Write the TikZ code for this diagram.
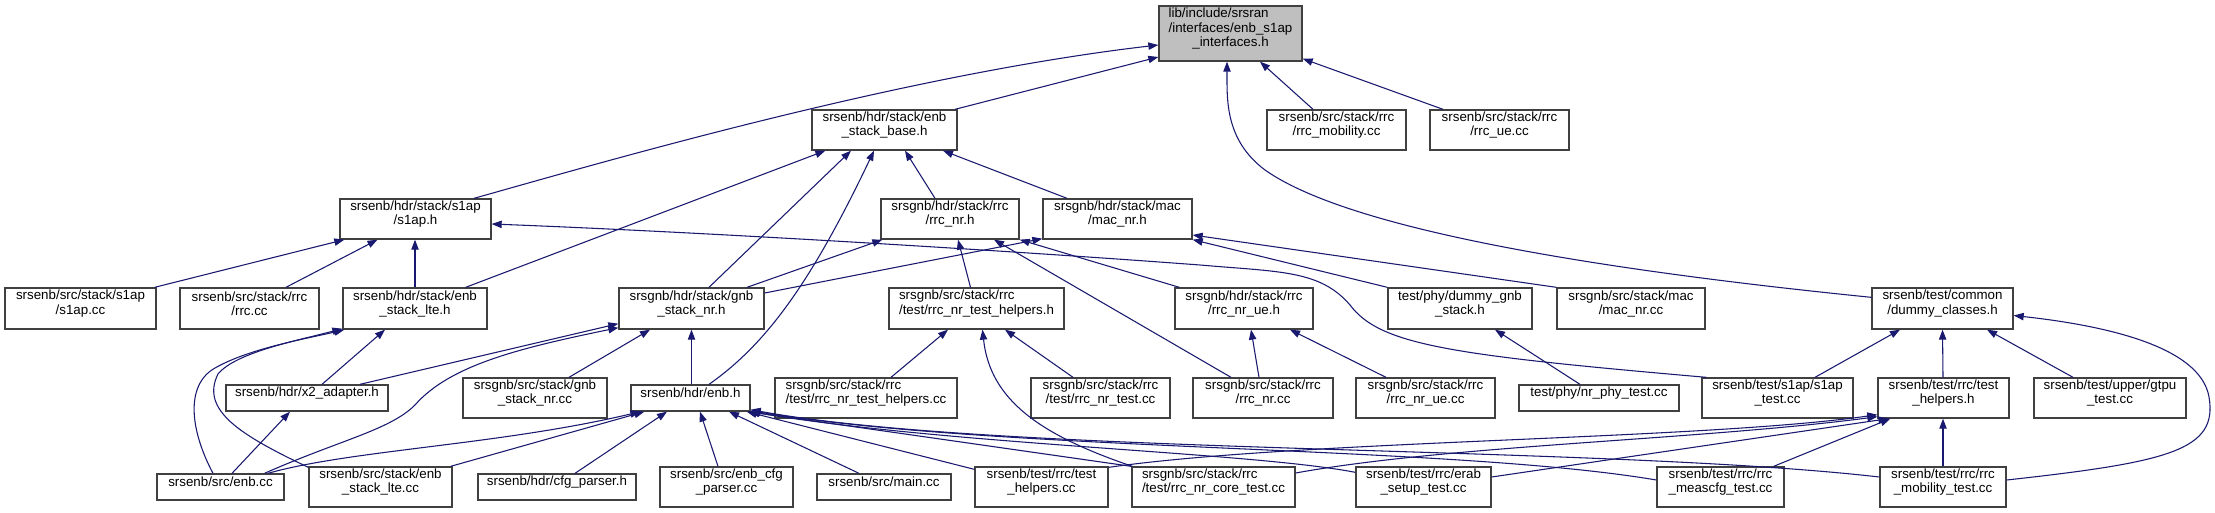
\documentclass[tikz,border=0pt]{standalone}
\usepackage{fontspec}
\setmainfont{Liberation Sans}
\usetikzlibrary{fit,calc,arrows.meta}
\definecolor{navy}{RGB}{25,25,112}
\newcommand\leftfirst[2]{\rlap{#1}\phantom{#2}}
\begin{document}
\begin{tikzpicture}[x=0.75pt,y=-0.75pt,
  box/.style={draw=black!75, line width=1pt, inner sep=0pt, align=center, font=\fontsize{10}{10.75}\selectfont},
  root/.style={box, fill=black!25},
  e/.style={draw=navy, line width=0.8pt, -{Triangle[length=7.5pt,width=5.5pt]}}]
\fill[white] (0,0) rectangle (2215,513);
\useasboundingbox (0,0) rectangle (2215,513);
% nodes
\node[root, fit={(1159,6) (1302,61)}] (T) {\leftfirst{lib/include/srsran}{/interfaces/enb\_s1ap}\\/interfaces/enb\_s1ap\\\_interfaces.h};
\node[box, fit={(812,110) (957,150)}] (base) {srsenb/hdr/stack/enb\\\_stack\_base.h};
\node[box, fit={(1267,110) (1406,150)}] (mob) {srsenb/src/stack/rrc\\/rrc\_mobility.cc};
\node[box, fit={(1430,110) (1569,150)}] (rrcue) {srsenb/src/stack/rrc\\/rrc\_ue.cc};
\node[box, fit={(340,199) (491,239)}] (s1aph) {srsenb/hdr/stack/s1ap\\/s1ap.h};
\node[box, fit={(881,199) (1019,239)}] (rrcnrh) {srsgnb/hdr/stack/rrc\\/rrc\_nr.h};
\node[box, fit={(1043,199) (1192,239)}] (macnrh) {srsgnb/hdr/stack/mac\\/mac\_nr.h};
\node[box, fit={(5,288) (156,329)}] (s1apcc) {srsenb/src/stack/s1ap\\/s1ap.cc};
\node[box, fit={(180,288) (319,329)}] (rrccc) {srsenb/src/stack/rrc\\/rrc.cc};
\node[box, fit={(343,288) (487,329)}] (ltehh) {srsenb/hdr/stack/enb\\\_stack\_lte.h};
\node[box, fit={(619,288) (764,329)}] (stacknrh) {srsgnb/hdr/stack/gnb\\\_stack\_nr.h};
\node[box, fit={(889,288) (1064,329)}] (nrhelph) {\leftfirst{srsgnb/src/stack/rrc}{/test/rrc\_nr\_test\_helpers.h}\\/test/rrc\_nr\_test\_helpers.h};
\node[box, fit={(1175,288) (1313,329)}] (nrueh) {srsgnb/hdr/stack/rrc\\/rrc\_nr\_ue.h};
\node[box, fit={(1388,288) (1532,329)}] (dgnb) {test/phy/dummy\_gnb\\\_stack.h};
\node[box, fit={(1557,288) (1705,329)}] (macnrcc) {srsgnb/src/stack/mac\\/mac\_nr.cc};
\node[box, fit={(1872,288) (2013,329)}] (dummy) {srsenb/test/common\\/dummy\_classes.h};
\node[box, fit={(226,385) (388,411)}] (x2) {srsenb/hdr/x2\_adapter.h};
\node[box, fit={(463,378) (607,418)}] (gnbcc) {srsgnb/src/stack/gnb\\\_stack\_nr.cc};
\node[box, fit={(631,385) (750,411)}] (enbh) {srsenb/hdr/enb.h};
\node[box, fit={(775,378) (957,418)}] (nrhelpcc) {\leftfirst{srsgnb/src/stack/rrc}{/test/rrc\_nr\_test\_helpers.cc}\\/test/rrc\_nr\_test\_helpers.cc};
\node[box, fit={(1031,378) (1170,418)}] (nrtest) {srsgnb/src/stack/rrc\\/test/rrc\_nr\_test.cc};
\node[box, fit={(1193,378) (1333,418)}] (rrcnrcc) {srsgnb/src/stack/rrc\\/rrc\_nr.cc};
\node[box, fit={(1356,378) (1495,418)}] (rrcnruecc) {srsgnb/src/stack/rrc\\/rrc\_nr\_ue.cc};
\node[box, fit={(1519,385) (1679,411)}] (nrphy) {test/phy/nr\_phy\_test.cc};
\node[box, fit={(1702,378) (1853,418)}] (s1aptest) {srsenb/test/s1ap/s1ap\\\_test.cc};
\node[box, fit={(1878,378) (2009,418)}] (testhelph) {srsenb/test/rrc/test\\\_helpers.h};
\node[box, fit={(2034,378) (2186,418)}] (gtpu) {srsenb/test/upper/gtpu\\\_test.cc};
\node[box, fit={(157,474) (284,500)}] (enbcc) {srsenb/src/enb.cc};
\node[box, fit={(309,467) (452,507)}] (ltecc) {srsenb/src/stack/enb\\\_stack\_lte.cc};
\node[box, fit={(478,474) (636,500)}] (cfgh) {srsenb/hdr/cfg\_parser.h};
\node[box, fit={(660,467) (793,507)}] (cfgcc) {srsenb/src/enb\_cfg\\\_parser.cc};
\node[box, fit={(817,474) (951,500)}] (main) {srsenb/src/main.cc};
\node[box, fit={(975,467) (1108,507)}] (thcc) {srsenb/test/rrc/test\\\_helpers.cc};
\node[box, fit={(1132,467) (1295,507)}] (coretest) {\leftfirst{srsgnb/src/stack/rrc}{/test/rrc\_nr\_core\_test.cc}\\/test/rrc\_nr\_core\_test.cc};
\node[box, fit={(1356,467) (1491,507)}] (erab) {srsenb/test/rrc/erab\\\_setup\_test.cc};
\node[box, fit={(1657,467) (1784,507)}] (meas) {srsenb/test/rrc/rrc\\\_meascfg\_test.cc};
\node[box, fit={(1880,467) (2006,507)}] (mobtest) {srsenb/test/rrc/rrc\\\_mobility\_test.cc};
% edges into root
\draw[e] ($(s1aph.north)+(58.5,0)$) .. controls (600,163) and (900,75) .. ($(T.west)+(0,11.5)$);
\draw[e] ($(base.north)+(70.5,0)$) -- ($(T.west)+(0,23.5)$);
\draw[e] ($(mob.north)+(-23.5,0)$) -- ($(T.south)+(29.5,0)$);
\draw[e] ($(rrcue.north)+(-56.5,0)$) -- ($(T.south east)+(0,-3)$);
\draw[e] ($(dummy.north west)+(0,10)$) .. controls (1600,270) and (1350,230) .. (1265,170) .. controls (1225,140) and (1227,100) .. ($(T.south)+(-3.5,0)$);
% s1ap.h
\draw[e] ($(s1apcc.north east)+(-2,0)$) -- ($(s1aph.south west)+(5,0)$);
\draw[e] ($(rrccc.north)+(36.5,0)$) -- ($(s1aph.south)+(-38,0)$);
\draw[e] (ltehh.north) -- ($(s1aph.south)+(-0.5,0)$);
\draw[e] ($(s1aptest.north west)+(5,0)$) .. controls (1450,355) and (1380,345) .. (1350,305) .. controls (1320,270) and (1280,272) .. (1200,265) .. controls (1000,250) and (700,232) .. ($(s1aph.east)+(0,5)$);
% enb_stack_base.h
\draw[e] ($(ltehh.north east)+(-22,0)$) -- ($(base.south west)+(14,0)$);
\draw[e] ($(stacknrh.north)+(17.5,0)$) -- ($(base.south)+(-33.5,0)$);
\draw[e] ($(enbh.north)+(18.5,0)$) .. controls (765,345) and (810,285) .. ($(base.south)+(-10.5,0)$);
\draw[e] ($(rrcnrh.north)+(-15,0)$) -- ($(base.south)+(20.5,0)$);
\draw[e] ($(macnrh.north)+(-50.5,0)$) -- ($(base.south)+(58.5,0)$);
% rrc_nr.h / mac_nr.h
\draw[e] ($(stacknrh.north)+(55.5,0)$) -- ($(rrcnrh.south west)+(2,0)$);
\draw[e] ($(stacknrh.east)+(0,-15.5)$) -- ($(macnrh.south west)+(0,-1)$);
\draw[e] ($(nrhelph.north)+(-6,0)$) -- ($(rrcnrh.south)+(8,0)$);
\draw[e] ($(rrcnrcc.north)+(-32,0)$) -- ($(rrcnrh.south)+(44,0)$);
\draw[e] ($(nrueh.north west)+(5,0)$) -- (rrcnrh.south east);
\draw[e] (dgnb.north west) -- (macnrh.south east);
\draw[e] (macnrcc.north west) -- ($(macnrh.east)+(0,16)$);
% enb_stack_lte.h
\draw[e] ($(x2.north)+(15,0)$) -- ($(ltehh.south)+(-30,0)$);
\draw[e] ($(enbcc.north)+(-7.5,0)$) .. controls (190,430) and (185,385) .. (215,368) .. controls (250,348) and (310,338) .. ($(ltehh.south west)+(2,0)$);
\draw[e] ($(ltecc.north west)+(0,1)$) .. controls (240,435) and (200,410) .. (218,374) .. controls (236,352) and (300,340) .. ($(ltehh.south west)+(0,-1)$);
% gnb_stack_nr.h
\draw[e] ($(x2.north)+(53,0)$) -- ($(stacknrh.south west)+(0,-6)$);
\draw[e] ($(enbcc.north)+(44,0)$) .. controls (340,440) and (390,430) .. (415,405) .. controls (450,365) and (520,348) .. ($(stacknrh.south west)+(0,-2)$);
\draw[e] ($(gnbcc.north)+(34,0)$) -- ($(stacknrh.south)+(-41.5,0)$);
\draw[e] ($(enbh.north)+(1,0)$) -- (stacknrh.south);
% x2_adapter.h
\draw[e] ($(enbcc.north)+(11.5,0)$) -- ($(x2.south)+(-17,0)$);
% enb.h
\draw[e] ($(enbcc.north)+(47.5,0)$) .. controls (350,450) and (500,445) .. ($(enbh.south west)+(10,0)$);
\draw[e] ($(ltecc.north east)+(-2,0)$) -- ($(enbh.south west)+(14,0)$);
\draw[e] ($(cfgh.north)+(18,0)$) -- ($(enbh.south)+(-23.5,0)$);
\draw[e] ($(cfgcc.north)+(-8.5,0)$) -- ($(enbh.south)+(9.5,0)$);
\draw[e] ($(main.north)+(-25,0)$) -- ($(enbh.south)+(38.5,0)$);
\draw[e] ($(thcc.north west)+(0,3)$) -- ($(enbh.south east)+(-4,0)$);
\draw[e] (coretest.north west) -- ($(enbh.south east)+(-2,0)$);
\draw[e] ($(erab.north west)+(0,6)$) .. controls (1250,452) and (950,445) .. ($(enbh.south east)+(-1,0)$);
\draw[e] ($(meas.west)+(0,-7)$) .. controls (1450,445) and (1000,452) .. ($(enbh.south east)+(0,-1)$);
\draw[e] ($(mobtest.west)+(0,-10)$) .. controls (1600,445) and (1000,455) .. ($(enbh.south east)+(0,-2)$);
% rrc_nr_test_helpers.h
\draw[e] ($(nrhelpcc.north)+(25,0)$) -- ($(nrhelph.south)+(-28.5,0)$);
\draw[e] ($(nrtest.north)+(-27.5,0)$) -- ($(nrhelph.south)+(28.5,0)$);
\draw[e] ($(coretest.north west)+(1,0)$) .. controls (1040,435) and (990,400) .. ($(nrhelph.south)+(6,0)$);
% rrc_nr_ue.h
\draw[e] ($(rrcnrcc.north)+(-4,0)$) -- ($(nrueh.south)+(7,0)$);
\draw[e] ($(rrcnruecc.north)+(-39.5,0)$) -- ($(nrueh.south)+(46,0)$);
% dummy_gnb_stack.h
\draw[e] ($(nrphy.north)+(-19,0)$) -- ($(dgnb.south)+(35,0)$);
% dummy_classes.h
\draw[e] ($(s1aptest.north)+(37.5,0)$) -- ($(dummy.south)+(-42.5,0)$);
\draw[e] ($(testhelph.north)+(-0.5,0)$) -- (dummy.south);
\draw[e] ($(gtpu.north)+(-37,0)$) -- ($(dummy.south)+(44.5,0)$);
\draw[e] ($(mobtest.east)+(0,-7)$) .. controls (2170,462) and (2218,450) .. (2209,397) .. controls (2200,345) and (2100,325) .. ($(dummy.east)+(0,7)$);
% test_helpers.h
\draw[e] ($(thcc.north east)+(0,1)$) .. controls (1300,440) and (1700,440) .. ($(testhelph.south west)+(0,-4)$);
\draw[e] ($(coretest.east)+(0,-14)$) .. controls (1450,445) and (1700,440) .. ($(testhelph.south west)+(0,-2)$);
\draw[e] ($(erab.east)+(0,-10)$) -- ($(testhelph.south west)+(11,0)$);
\draw[e] ($(meas.north east)+(-11,0)$) -- ($(testhelph.south west)+(13,0)$);
\draw[e] (mobtest.north) -- ($(testhelph.south)+(-0.5,0)$);
\end{tikzpicture}
\end{document}
